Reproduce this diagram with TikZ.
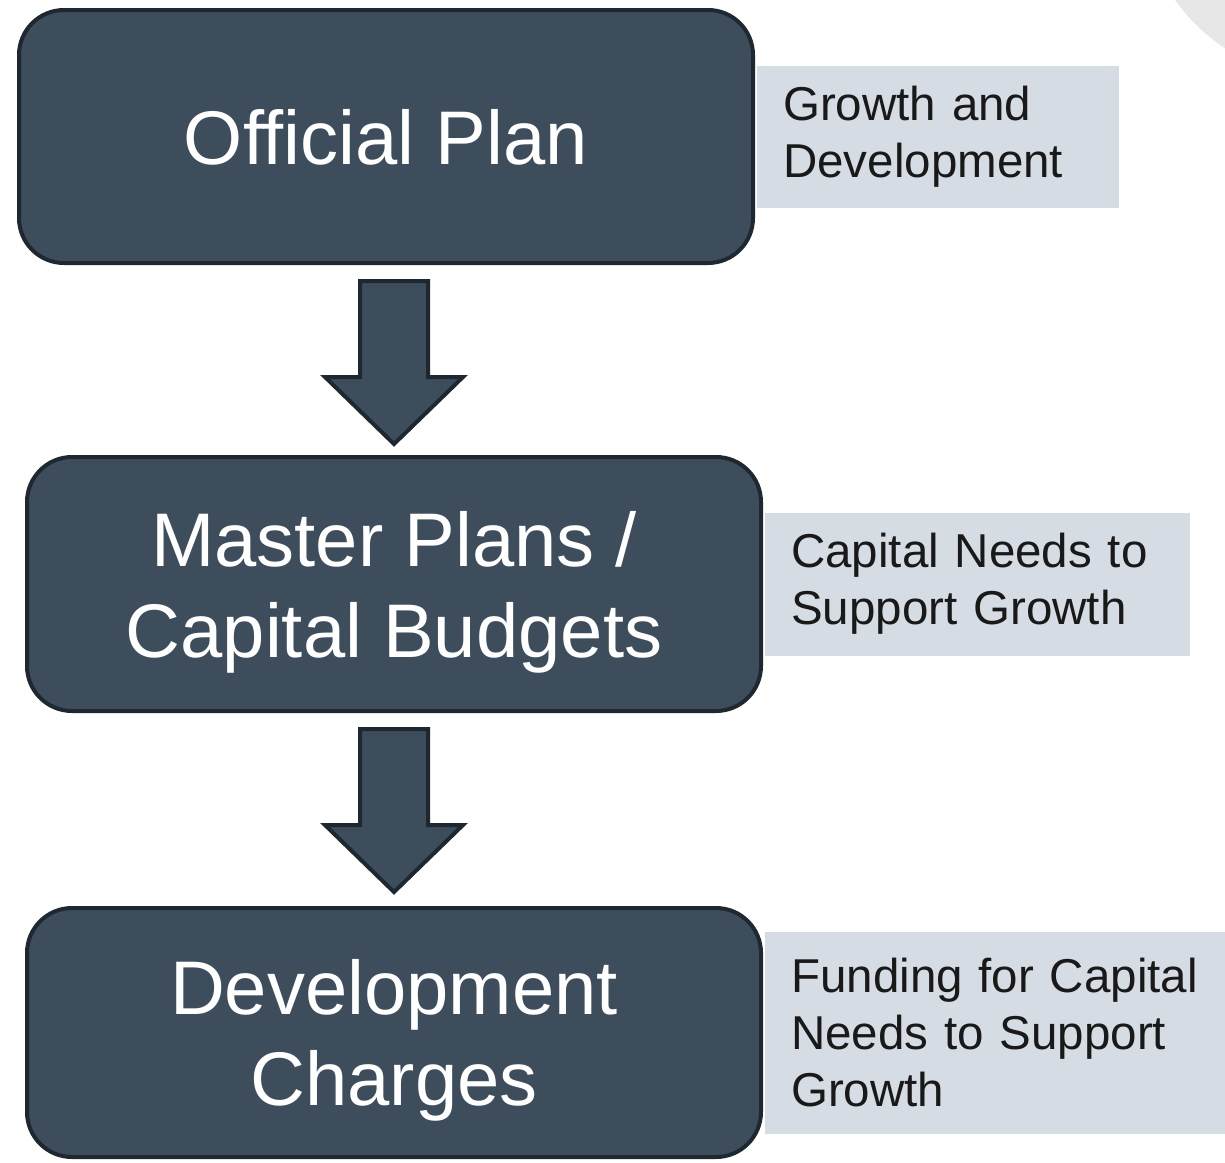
\documentclass[tikz,border=0pt]{standalone}
\usepackage{fontspec}
\setmainfont{Liberation Sans}
\usepackage{tikz}
\usetikzlibrary{arrows.meta,calc,positioning}

\definecolor{boxfill}{HTML}{3E4D5C}
\definecolor{boxline}{HTML}{1E2830}
\definecolor{notefill}{HTML}{D6DCE3}
\definecolor{cornergray}{HTML}{E7E7E7}

\begin{document}
\begin{tikzpicture}[x=1pt,y=1pt,
    stagebox/.style={draw=boxline,fill=boxfill,line width=4pt,rounded corners=45pt,
      minimum width=734pt,align=center,text=white,text depth=0pt,
      font=\fontsize{76}{91}\selectfont},
    notebox/.style={fill=notefill,inner xsep=26pt,align=left,text=black!90,
      font=\fontsize{47.5}{57}\selectfont},
    bigarrow/.style={draw=boxline,fill=boxfill,line width=4pt,line join=miter}]
  \useasboundingbox (0,0) rectangle (1225,-1162);

  % Corner decoration
  \fill[cornergray] (1330,110) circle (190);

  % Stages
  \node[stagebox,minimum height=253pt] (plan)    at (386,-136.5) {Official Plan};
  \node[stagebox,minimum height=254pt] (budget)  at (394,-584)   {Master Plans /\\Capital Budgets};
  \node[stagebox,minimum height=249pt] (charges) at (394,-1032.5) {Development\\Charges};

  % Notes beside each stage
  \node[notebox,right=2pt of plan,text width=310pt,minimum height=142pt] (growth)
    {Growth and\\Development};
  \node[notebox,right=2pt of budget,text width=373pt,minimum height=143pt] (needs)
    {Capital Needs to\\Support Growth};
  \node[notebox,right=2pt of charges,text width=430pt,minimum height=202pt] (funding)
    {Funding for Capital\\Needs to Support\\Growth};

  % Block arrows between stages
  \foreach \a/\b in {plan/budget,budget/charges} {
    \coordinate (top) at ($(\a.south -| \b.north)+(0,-16)$);
    \draw[bigarrow] ($(top)+(-34,0)$) -- ++(68,0) -- ++(0,-96) -- ++(35,0)
      -- ($(top)+(0,-163)$) -- ++(-69,67) -- ++(35,0) -- cycle;
  }
\end{tikzpicture}
\end{document}
